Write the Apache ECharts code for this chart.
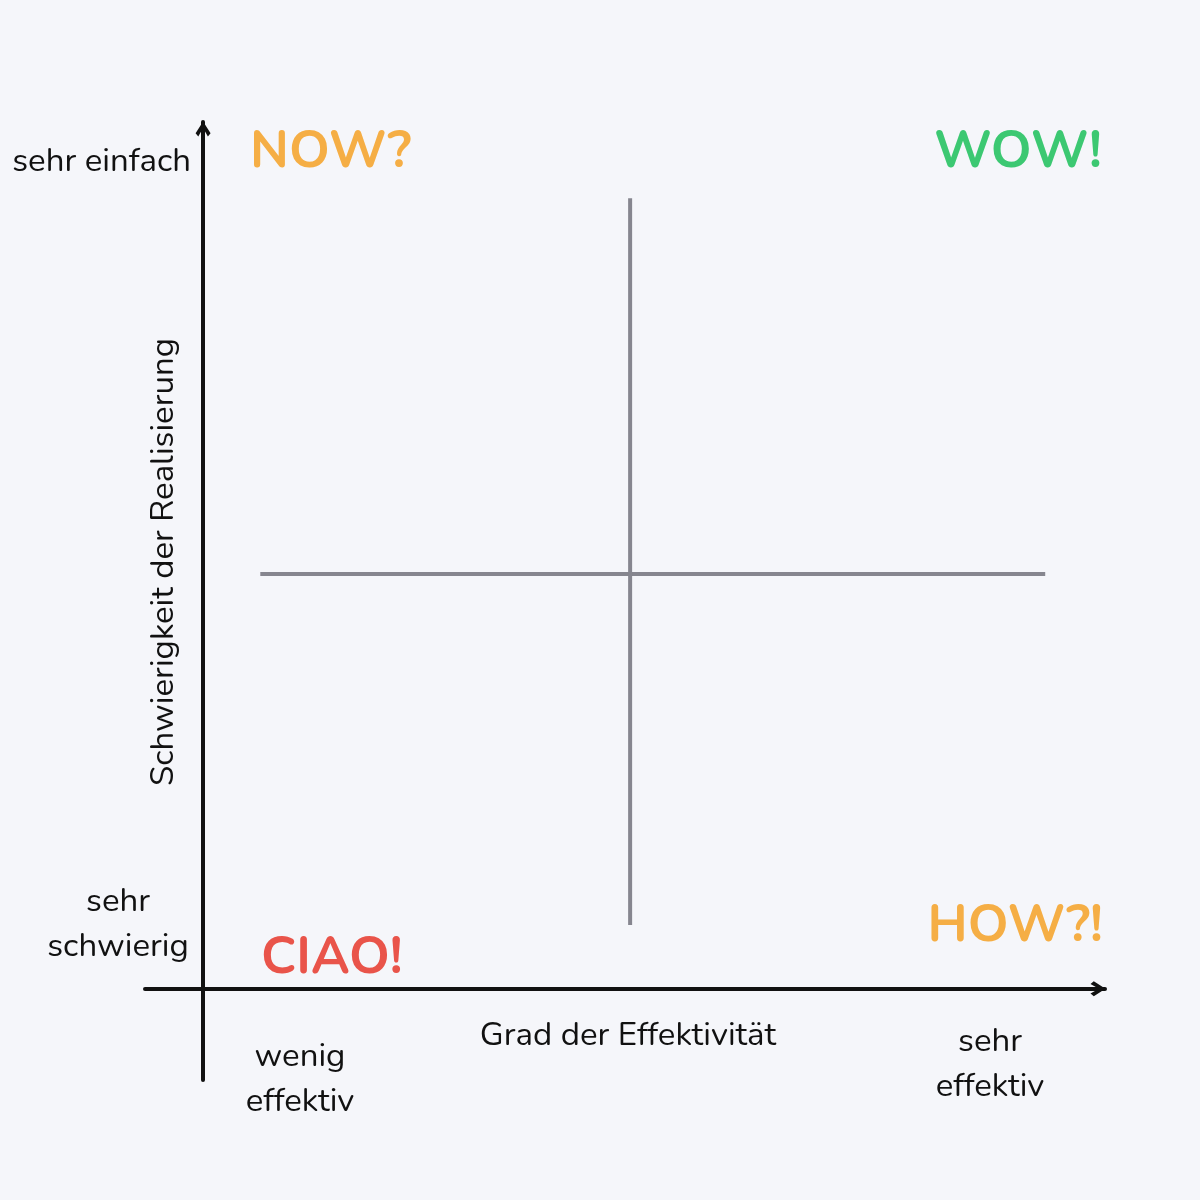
<!DOCTYPE html>
<html>
<head>
<meta charset="utf-8">
<script src="https://cdn.jsdelivr.net/npm/echarts@6/dist/echarts.min.js"></script>
<style>
  html, body { margin: 0; padding: 0; background: #f5f6fa; }
  #chart { width: 1200px; height: 1200px; }
</style>
</head>
<body>
<div id="chart"></div>
<script>
(function() {
  var font = 'Nunito, "Noto Sans", Lato, sans-serif';
  var ink = '#111111';
  var crossColor = '#86868f';

  // axis ranges (effectiveness / ease, 0..100 with the axes crossing at 0)
  var xRange = [-6.8, 105.6];
  var yRange = [-11, 104.5];

  // the cross dividing the four quadrants
  var crossH = [[6.7, 50], [98.6, 50]];
  var crossV = [[50, 7.7], [50, 95.3]];

  // quadrant labels
  var quadrants = ['NOW?', 'WOW!', 'CIAO!', 'HOW?!'];
  var quadColors = ['#f5ae45', '#3cc872', '#e9544a', '#f5ae45'];

  // axis texts
  var xTitle = 'Grad der Effektivität';
  var yTitle = 'Schwierigkeit der Realisierung';
  var xLow = 'wenig\neffektiv', xHigh = 'sehr\neffektiv';
  var yLow = 'sehr\nschwierig', yHigh = 'sehr einfach';

  // open chevron head for both axes (thick arms)
  var chevron = 'path://M0,78 L50,0 L100,78 L82,100 L50,44 L18,100 Z';

  function axisCommon(range) {
    return {
      type: 'value', min: range[0], max: range[1],
      axisLine: {
        show: true, onZero: true,
        symbol: ['none', chevron], symbolSize: [24, 15], symbolOffset: [0, -7],
        lineStyle: { color: ink, width: 4 }
      },
      axisTick: { show: false },
      axisLabel: { show: false },
      splitLine: { show: false }
    };
  }

  function txt(left, top, text, size, color, weight, align) {
    return {
      type: 'text', x: left, y: top,
      style: {
        text: text, fill: color, font: (weight || 'normal') + ' ' + size + 'px ' + font,
        textAlign: align || 'center', textVerticalAlign: 'middle', lineHeight: 45
      }
    };
  }

  var chart = echarts.init(document.getElementById('chart'), null, { renderer: 'canvas' });
  chart.setOption({
    animation: false,
    backgroundColor: '#f5f6fa',
    grid: { left: 145, right: 95, top: 122, bottom: 120 },
    xAxis: axisCommon(xRange),
    yAxis: axisCommon(yRange),
    series: [
      { type: 'line', data: crossH, showSymbol: false, lineStyle: { color: crossColor, width: 4 } },
      { type: 'line', data: crossV, showSymbol: false, lineStyle: { color: crossColor, width: 4 } }
    ],
    graphic: [
      txt(191, 163, yHigh, 33, ink, 'normal', 'right'),
      txt(118, 926, yLow, 33, ink, 'normal', 'center'),
      txt(300, 1081, xLow, 33, ink, 'normal', 'center'),
      txt(990, 1066, xHigh, 33, ink, 'normal', 'center'),
      txt(628, 1037, xTitle, 33, ink, 'normal', 'center'),
      {
        type: 'text', x: 165, y: 562, rotation: Math.PI / 2,
        style: { text: yTitle, fill: ink, font: 'normal 33px ' + font, textAlign: 'center', textVerticalAlign: 'middle' }
      },
      txt(250, 154, quadrants[0], 52, quadColors[0], 'bold', 'left'),
      txt(1102, 154, quadrants[1], 52, quadColors[1], 'bold', 'right'),
      txt(261, 960, quadrants[2], 52, quadColors[2], 'bold', 'left'),
      txt(1103, 928, quadrants[3], 52, quadColors[3], 'bold', 'right')
    ]
  });
})();
</script>
</body>
</html>
